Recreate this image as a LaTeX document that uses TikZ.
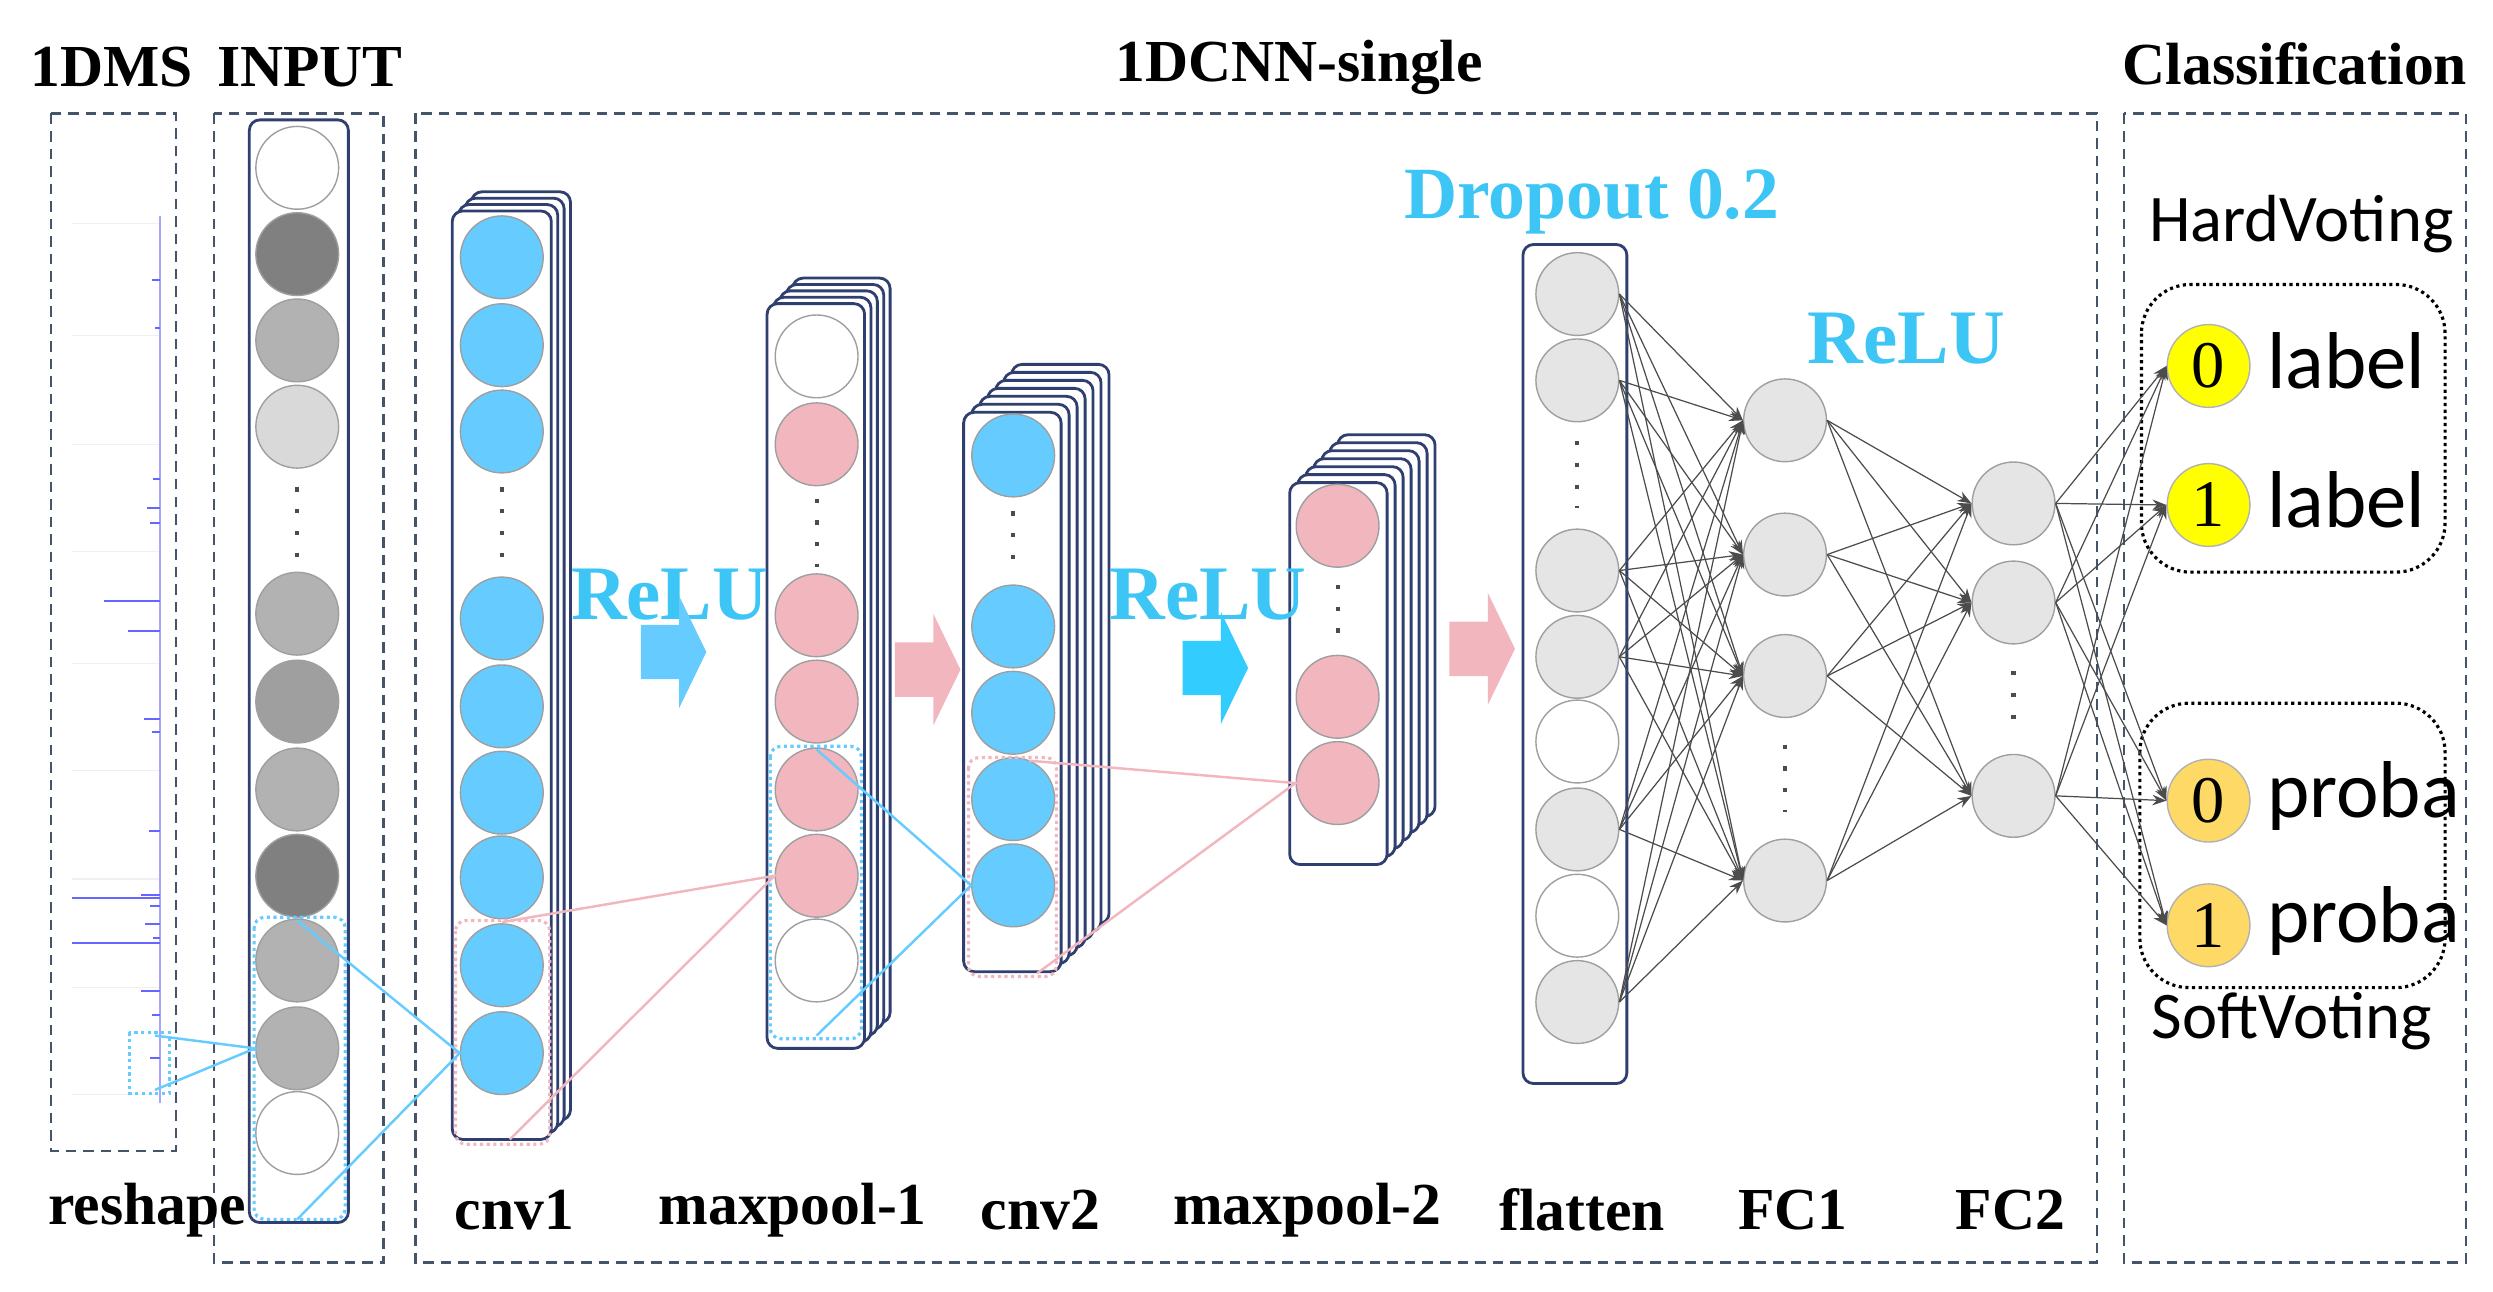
\documentclass[tikz,border=0pt]{standalone}
\usepackage{fontspec}
\setmainfont{Liberation Serif}
\newfontfamily\sansf{Carlito}
\usetikzlibrary{arrows.meta}
\definecolor{frame}{RGB}{68,84,106}
\definecolor{layerc}{RGB}{47,63,111}
\definecolor{cblue}{RGB}{102,204,255}
\definecolor{cpink}{RGB}{242,182,190}
\definecolor{relu}{RGB}{61,197,245}
\definecolor{cyanar}{RGB}{51,204,255}
\definecolor{cyellow}{RGB}{255,255,0}
\definecolor{corange}{RGB}{255,217,102}
\tikzset{
  neuron/.style={circle,draw=gray!75,fill=#1,minimum size=0.83cm,inner sep=0pt},
  neuron/.default=white,
  panel/.style={draw=frame,densely dashed,line width=0.6pt},
  layer/.style={draw=layerc,fill=white,rounded corners=3pt,line width=0.8pt},
  title/.style={font=\bfseries\fontsize{17}{17}\selectfont},
  relutxt/.style={font=\bfseries\fontsize{22}{22}\selectfont,text=relu},
  conn/.style={draw=gray!60!black,line width=0.35pt,-{Stealth[length=4pt,width=3pt]}},
  vdot/.style={line width=1.2pt,dash pattern=on 1.2pt off 5pt,draw=black!70},
}
% stack of layers: x1,y1,x2,y2,count,offset
\newcommand{\layerstack}[6]{%
  \foreach \k in {#5,...,1}{
    \draw[layer] ({#1+\k*#6},{#2-\k*#6}) rectangle ({#3+\k*#6},{#4-\k*#6});
  }
  \draw[layer] (#1,#2) rectangle (#3,#4);
}
% block arrow: left x, mid y, colour
\newcommand{\blockarrow}[3]{%
  \fill[#3] (#1,#2-17) -- (#1+24,#2-17) -- (#1+24,#2-35) -- (#1+41,#2) -- (#1+24,#2+35) -- (#1+24,#2+17) -- (#1,#2+17) -- cycle;
}
\begin{document}
\begin{tikzpicture}[x=0.016026cm,y=-0.016026cm]
\useasboundingbox (0,0) rectangle (1560,808);

% titles
\node[title] (t1) at (70,42) {1DMS};
\node[title] (t2) at (194,42) {INPUT};
\node[title] (t3) at (813,42) {1DCNN-single};
\node[title] (t4) at (1436,40) {Classification};

% panels
\draw[panel] (32,71) rectangle (110,720);
\draw[panel] (134,71) rectangle (240,790);
\draw[panel] (260,71) rectangle (1312,790);
\draw[panel] (1329,71) rectangle (1543,790);

% spectrum
\foreach \y in {140,210,278,345,415,482,550,618,685}
  \draw[gray!12] (45,\y) -- (100,\y);
\draw[blue!35] (100,135) -- (100,690);
\foreach \y/\l in {175/5,205/3,300/4,318/8,327/6,376/35,395/20,450/10,458/5,520/7,560/12,567/6,578/9,587/4,620/12,635/5,662/6}
  \draw[blue!60,line width=0.6pt] (100,\y) -- (100-\l,\y);
\draw[blue!60,line width=0.6pt] (45,562) -- (100,562);
\draw[blue!60,line width=0.6pt] (45,590) -- (100,590);
\draw[cblue,densely dotted,line width=0.9pt] (81,646) rectangle (106,684);
\coordinate (sp1) at (97,648);
\coordinate (sp2) at (97,682);

% input
\draw[layer] (156,75) rectangle (218,765);
\foreach \i/\y/\c in {1/105/white,2/159/gray!100,3/213/gray!60,4/267/gray!30,
  5/384/gray!60,6/439/gray!75,7/494/gray!60,8/548/gray!100,9/601/gray!60,10/656/gray!60,11/709/white}
  \node[neuron=\c] (in\i) at (186,\y) {};
\draw[vdot] (186,305) -- (186,350);
\draw[cblue,densely dotted,line width=0.9pt,rounded corners=3pt] (159,574) rectangle (216,763);
\draw[cblue,line width=0.7pt] (sp1) -- (in10.west) -- (sp2);

% cnv1
\layerstack{283}{132}{345}{713}{3}{4}
\foreach \i/\y in {1/161,2/216,3/270,4/387,5/442,6/496,7/549,8/604,9/659}
  \node[neuron=cblue] (ca\i) at (314,\y) {};
\draw[vdot] (314,305) -- (314,352);
\draw[cpink,densely dotted,line width=0.9pt,rounded corners=3pt] (285,576) rectangle (344,716);
\draw[cblue,line width=0.7pt] (186,576) -- (ca9.west) -- (186,763);

% maxpool-1
\layerstack{480}{190}{541}{656}{4}{4}
\foreach \i/\y/\c in {1/223/white,2/278/cpink,3/385/cpink,4/439/cpink,5/494/cpink,6/548/cpink,7/601/white}
  \node[neuron=\c] (ma\i) at (511,\y) {};
\draw[vdot] (511,312) -- (511,355);
\draw[cblue,densely dotted,line width=0.9pt,rounded corners=3pt] (482,467) rectangle (539,650);
\draw[cpink,line width=0.7pt] (314,577) -- (ma6.west) -- (319,713);

% cnv2
\layerstack{603}{258}{664}{608}{6}{5}
\foreach \i/\y in {1/285,2/392,3/446,4/500,5/554}
  \node[neuron=cblue] (cb\i) at (634,\y) {};
\draw[vdot] (634,320) -- (634,360);
\draw[cpink,densely dotted,line width=0.9pt,rounded corners=3pt] (606,474) rectangle (661,611);
\draw[cblue,line width=0.7pt] (511,469) -- (cb5.west) -- (511,648);

% maxpool-2
\layerstack{807}{302}{868}{541}{6}{5}
\foreach \i/\y in {1/329,2/436,3/490}
  \node[neuron=cpink] (mb\i) at (837,\y) {};
\draw[vdot] (837,366) -- (837,402);
\draw[cpink,line width=0.7pt] (644,476) -- (mb3.west) -- (649,609);

% activations
\node[relutxt] (r1) at (419,372) {ReLU};
\blockarrow{401}{408}{cblue}
\blockarrow{560}{419}{cpink}
\node[relutxt] (r2) at (756,372) {ReLU};
\blockarrow{740}{418}{cyanar}
\blockarrow{907}{406}{cpink}

% flatten
\node[font=\bfseries\fontsize{21}{21}\selectfont,text=relu] (drop) at (996,126) {Dropout 0.2};
\draw[layer] (953,153) rectangle (1018,678);
\foreach \i/\y/\c in {1/184/gray!20,2/238/gray!20,3/357/gray!20,4/411/gray!20,5/464/white,6/519/gray!20,7/573/white,8/627/gray!20}
  \node[neuron=\c] (fl\i) at (987,\y) {};
\draw[vdot] (987,276) -- (987,318);

% fully connected
\node[relutxt] (r3) at (1193,212) {ReLU};
\foreach \i/\y in {1/263,2/347,3/423,4/551}
  \node[neuron=gray!20] (fa\i) at (1117,\y) {};
\draw[vdot] (1117,466) -- (1117,508);
\foreach \i/\y in {1/315,2/377,3/498}
  \node[neuron=gray!20] (fb\i) at (1260,\y) {};
\draw[vdot] (1260,420) -- (1260,460);
\foreach \s in {1,2,3,4,6,8}
  \foreach \t in {1,...,4}
    \draw[conn] (fl\s.east) -- (fa\t.west);
\foreach \s in {1,...,4}
  \foreach \t in {1,2,3}
    \draw[conn] (fa\s.east) -- (fb\t.west);

% classification
\node[font=\sansf\fontsize{19}{19}\selectfont] (hv) at (1440,140) {HardVoting};
\node[font=\sansf\fontsize{19}{19}\selectfont] (sv) at (1434,639) {SoftVoting};
\draw[densely dotted,line width=0.9pt,rounded corners=14pt] (1340,178) rectangle (1530,358);
\draw[densely dotted,line width=0.9pt,rounded corners=14pt] (1339,440) rectangle (1530,618);
\foreach \i/\y/\d/\c/\w in {1/229/0/cyellow/label,2/316/1/cyellow/label,3/501/0/corange/proba,4/579/1/corange/proba}{
  \node[neuron=\c,draw=gray!60,font=\fontsize{19}{19}\selectfont] (ou\i) at (1382,\y) {\d};
  \node[font=\sansf\fontsize{23}{23}\selectfont,anchor=west] (ow\i) at (1411,\y-3) {\w};
}
\foreach \s in {1,2,3}
  \foreach \t in {1,...,4}
    \draw[conn] (fb\s.east) -- (ou\t.west);

% bottom labels
\foreach \x/\n in {92/reshape,322/cnv1,496/maxpool-1,651/cnv2,818/maxpool-2,990/flatten,1122/FC1,1258/FC2}
  \node[title] (lb-\n) at (\x,757) {\n};
\end{tikzpicture}
\end{document}
